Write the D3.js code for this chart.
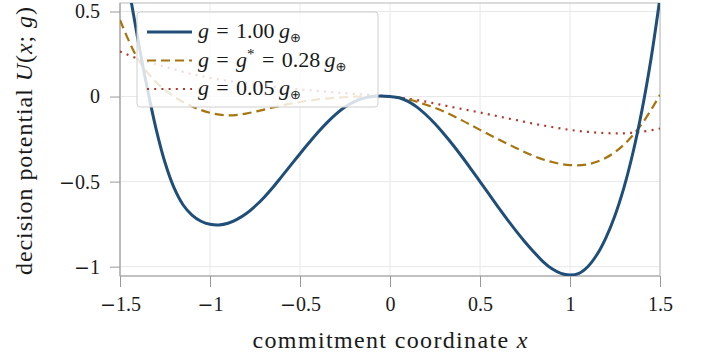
<!DOCTYPE html>
<html><head><meta charset="utf-8">
<script src="https://cdn.jsdelivr.net/npm/d3@7"></script>
<style>
html,body{margin:0;padding:0;background:#fff;}
svg text{font-family:"Liberation Serif","Times New Roman",serif;fill:#1a1a1a;}
</style></head>
<body><svg id="c" width="701" height="356"></svg>
<script>
// ---- data ----
const xBlue = [-1.50,-1.45,-1.40,-1.35,-1.30,-1.25,-1.20,-1.15,-1.10,-1.05,-1.00,-0.95,-0.90,-0.85,-0.80,-0.75,-0.70,-0.65,-0.60,-0.55,-0.50,-0.45,-0.40,-0.35,-0.30,-0.25,-0.20,-0.15,-0.10,-0.05,0.00,0.05,0.10,0.15,0.20,0.25,0.30,0.35,0.40,0.45,0.50,0.55,0.60,0.65,0.70,0.75,0.80,0.85,0.90,0.95,1.00,1.05,1.10,1.15,1.20,1.25,1.30,1.35,1.40,1.45,1.50];
const uG100 = [0.957,0.632,0.332,0.057,-0.188,-0.388,-0.536,-0.636,-0.697,-0.733,-0.751,-0.755,-0.745,-0.722,-0.689,-0.645,-0.593,-0.533,-0.468,-0.402,-0.336,-0.272,-0.21,-0.153,-0.103,-0.062,-0.031,-0.011,0.0,0.003,0.0,-0.007,-0.028,-0.062,-0.107,-0.16,-0.22,-0.285,-0.354,-0.426,-0.50,-0.574,-0.648,-0.72,-0.79,-0.855,-0.915,-0.97,-1.013,-1.04,-1.049,-1.039,-0.999,-0.929,-0.829,-0.699,-0.534,-0.329,-0.079,0.221,0.581];
const xCoarse = [-1.5,-1.4,-1.3,-1.2,-1.1,-1.0,-0.9,-0.8,-0.7,-0.6,-0.5,-0.4,-0.3,-0.2,-0.1,0.0,0.1,0.2,0.3,0.4,0.5,0.6,0.7,0.8,0.9,1.0,1.1,1.2,1.3,1.4,1.5];
const uG028 = [0.45,0.22,0.085,0.0,-0.058,-0.095,-0.111,-0.10,-0.077,-0.052,-0.032,-0.017,-0.007,-0.001,0.001,0.0,-0.016,-0.048,-0.088,-0.14,-0.196,-0.25,-0.302,-0.35,-0.385,-0.403,-0.398,-0.36,-0.282,-0.16,0.01];
const uG005 = [0.265,0.222,0.19,0.16,0.132,0.11,0.092,0.077,0.063,0.052,0.042,0.033,0.024,0.016,0.008,0.0,-0.013,-0.03,-0.052,-0.073,-0.094,-0.116,-0.138,-0.16,-0.179,-0.196,-0.208,-0.215,-0.216,-0.207,-0.188];
const xTicks = [-1.5,-1,-0.5,0,0.5,1,1.5];
const yTicks = [-1,-0.5,0,0.5];
const legendValues = ["1.00","0.28","0.05"];

// ---- layout ----
const svg = d3.select("#c");
const L=120, R=660, T=3, B=276;
const x = d3.scaleLinear().domain([-1.5,1.5]).range([L,R]);
const y = d3.scaleLinear().domain([-1.055,0.55]).range([B,T]);
const fmt = v => (v<0?"\u2212":"") + String(Math.abs(v));

// grid
svg.append("g").selectAll("line").data(xTicks).join("line")
  .attr("x1",d=>x(d)).attr("x2",d=>x(d)).attr("y1",T).attr("y2",B)
  .attr("stroke","#e8e8e8").attr("stroke-width",1);
svg.append("g").selectAll("line").data(yTicks).join("line")
  .attr("y1",d=>y(d)).attr("y2",d=>y(d)).attr("x1",L).attr("x2",R)
  .attr("stroke","#e8e8e8").attr("stroke-width",1);

// frame
svg.append("rect").attr("x",L).attr("y",T).attr("width",R-L).attr("height",B-T)
  .attr("fill","none").attr("stroke","#c4c4c4").attr("stroke-width",1.2);
svg.append("line").attr("x1",L).attr("x2",L).attr("y1",T).attr("y2",B).attr("stroke","#a8a8a8").attr("stroke-width",1.2);
svg.append("line").attr("x1",L).attr("x2",R).attr("y1",B).attr("y2",B).attr("stroke","#a8a8a8").attr("stroke-width",1.2);

function styleTicks(g){
  g.select(".domain").remove();
  g.attr("font-family",null).attr("font-size",null);
  g.selectAll(".tick line").attr("stroke","#999").attr("stroke-width",1);
  g.selectAll(".tick text").attr("font-size",20).attr("fill","#1a1a1a").each(function(d){
    const t = d3.select(this); t.text("");
    if(d<0){ t.append("tspan").attr("font-family","DejaVu Serif").attr("font-size",19).text("\u2212"); }
    t.append("tspan").text(String(Math.abs(d)));
  });
}
// axes
const xAxis = d3.axisBottom(x).tickValues(xTicks).tickFormat(fmt).tickSize(11).tickPadding(10);
const gx = svg.append("g").attr("transform",`translate(0,${B})`).call(xAxis);
styleTicks(gx);
const yAxis = d3.axisLeft(y).tickValues(yTicks).tickFormat(fmt).tickSize(10).tickPadding(10);
const gy = svg.append("g").attr("transform",`translate(${L},0)`).call(yAxis);
styleTicks(gy);

// clip
svg.append("clipPath").attr("id","clip").append("rect").attr("x",L).attr("y",T).attr("width",R-L).attr("height",B-T);

const series = [
  {xs:xCoarse, ys:uG005, color:"#b03a2e", width:2.2, dash:"2,5.2", cap:"butt"},
  {xs:xCoarse, ys:uG028, color:"#a8740f", width:2.2, dash:"9,5", cap:"butt"},
  {xs:xBlue, ys:uG100, color:"#1f4e79", width:3, dash:null, cap:"round"}
];
const line = d3.line().x(d=>x(d[0])).y(d=>y(d[1])).curve(d3.curveCatmullRom.alpha(0.5));
const gl = svg.append("g").attr("clip-path","url(#clip)");
series.forEach(s=>{
  gl.append("path").datum(s.xs.map((v,i)=>[v,s.ys[i]]))
    .attr("d",line).attr("fill","none").attr("stroke",s.color).attr("stroke-width",s.width)
    .attr("stroke-dasharray",s.dash).attr("stroke-linecap",s.cap);
});

// legend
const lg = svg.append("g");
lg.append("rect").attr("x",137).attr("y",12).attr("width",241).attr("height",95).attr("rx",3)
  .attr("fill","#fff").attr("fill-opacity",0.82).attr("stroke","#cfcfcf").attr("stroke-width",1);
const legendStyle = [series[2],series[1],series[0]];
const sp = "\u2004";
legendValues.forEach((v,i)=>{
  const s = legendStyle[i];
  const yy = 32 + i*28.5;
  lg.append("line").attr("x1",147).attr("x2",192).attr("y1",yy).attr("y2",yy)
    .attr("stroke",s.color).attr("stroke-width",s.width).attr("stroke-dasharray",s.dash);
  const t = lg.append("text").attr("x",198).attr("y",yy+6).attr("font-size",22);
  t.append("tspan").attr("font-style","italic").text("g");
  if(i===1){
    t.append("tspan").text(sp+"="+sp);
    t.append("tspan").attr("font-style","italic").text("g");
    t.append("tspan").attr("font-size",15).attr("dy",-8).text("*");
    t.append("tspan").attr("dy",8).text(sp+"="+sp + v + "\u2009");
  } else {
    t.append("tspan").text(sp+"="+sp + v + "\u2009");
  }
  t.append("tspan").attr("font-style","italic").text("g");
  t.append("tspan").attr("font-size",13).attr("dy",4).attr("font-family","DejaVu Sans").text("\u2295");
});

// axis titles
const xt = svg.append("text").attr("x",390).attr("y",348).attr("text-anchor","middle").attr("font-size",24)
  .attr("textLength",275).attr("lengthAdjust","spacing");
xt.append("tspan").text("commitment coordinate ");
xt.append("tspan").attr("font-style","italic").text("x");

const yt = svg.append("text").attr("transform","translate(32,141) rotate(-90)").attr("text-anchor","middle").attr("font-size",24)
  .attr("textLength",268).attr("lengthAdjust","spacing");
yt.append("tspan").text("decision potential ");
yt.append("tspan").attr("font-style","italic").text("U");
yt.append("tspan").text("(");
yt.append("tspan").attr("font-style","italic").text("x");
yt.append("tspan").text("; ");
yt.append("tspan").attr("font-style","italic").text("g");
yt.append("tspan").text(")");
</script></body></html>
